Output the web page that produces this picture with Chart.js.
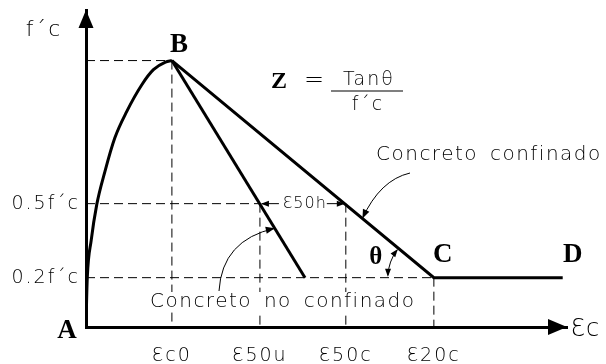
<!DOCTYPE html>
<html>
<head>
<meta charset="utf-8">
<script src="https://cdn.jsdelivr.net/npm/chart.js@4/dist/chart.umd.min.js"></script>
<style>
  html, body { margin: 0; padding: 0; background: #fff; }
</style>
</head>
<body>
<canvas id="stressStrain" width="606" height="364"></canvas>
<script>
// Strain marks on the horizontal axis
const strainTicks = [0.002, 0.00405, 0.00605, 0.0081];
const strainLabels = ['Ɛc0', 'Ɛ50u', 'Ɛ50c', 'Ɛ20c'];

// Stress levels marked on the vertical axis (fraction of f'c)
const stressTicks = [0.2, 0.5];
const stressLabels = ['0.2f´c', '0.5f´c'];

// Ascending branch A-B
const riseStrain = [0, 0.00001, 0.00003, 0.00012, 0.00025, 0.00044, 0.00067, 0.00095, 0.0013, 0.00157, 0.00185, 0.002];
const riseStress = [0, 0.08, 0.2, 0.35, 0.496, 0.63, 0.766, 0.874, 0.982, 1.043, 1.074, 1.08];

// Descending branches
const unconfinedStrain = [0.002, 0.0051];
const unconfinedStress = [1.08, 0.2];
const confinedStrain = [0.002, 0.0081, 0.0111];
const confinedStress = [1.08, 0.2, 0.2];

const peakStrain = riseStrain[riseStrain.length - 1];
const peakStress = riseStress[riseStress.length - 1];

const toPoints = (xs, ys) => xs.map((v, i) => ({ x: v, y: ys[i] }));

const thin = "200 19px 'DejaVu Sans'";
const serif = "bold 27px 'Liberation Serif'";

function solidLine(points, extra) {
    return Object.assign({
        data: points,
        showLine: true,
        borderColor: '#000',
        borderWidth: 3,
        pointRadius: 0,
        fill: false
    }, extra || {});
}

function dashLine(points) {
    return {
        data: points,
        showLine: true,
        borderColor: '#000',
        borderWidth: 1,
        borderDash: [9, 5],
        pointRadius: 0,
        fill: false
    };
}

// Guide lines from the axes to the key points
const guides = [
    [{ x: 0, y: peakStress }, { x: peakStrain, y: peakStress }],
    [{ x: peakStrain, y: peakStress }, { x: peakStrain, y: 0 }],
    [{ x: 0, y: stressTicks[1] }, { x: strainTicks[1], y: stressTicks[1] }],
    [{ x: strainTicks[1], y: stressTicks[1] }, { x: strainTicks[1], y: 0 }],
    [{ x: strainTicks[2], y: stressTicks[1] }, { x: strainTicks[2], y: 0 }],
    [{ x: 0, y: stressTicks[0] }, { x: strainTicks[3], y: stressTicks[0] }],
    [{ x: strainTicks[3], y: stressTicks[0] }, { x: strainTicks[3], y: 0 }]
];

function arrowHead(ctx, x, y, angle, len, half) {
    const c = Math.cos(angle), s = Math.sin(angle);
    ctx.beginPath();
    ctx.moveTo(x, y);
    ctx.lineTo(x - len * c + half * s, y - len * s - half * c);
    ctx.lineTo(x - len * c - half * s, y - len * s + half * c);
    ctx.closePath();
    ctx.fill();
}

// point on a straight segment at a given stress
function atStress(x0, y0, x1, y1, s) {
    const t = (s - y0) / (y1 - y0);
    return { x: x0 + t * (x1 - x0), y: s };
}

function curvedPointer(ctx, sx, sy, cx, cy, tx, ty) {
    ctx.beginPath();
    ctx.moveTo(sx, sy);
    ctx.quadraticCurveTo(cx, cy, tx, ty);
    ctx.stroke();
    arrowHead(ctx, tx, ty, Math.atan2(ty - cy, tx - cx), 9, 3.5);
}

function label(ctx, text, x, y, font, align, spacing, knockout) {
    ctx.font = font;
    ctx.letterSpacing = (spacing || 0) + 'px';
    ctx.wordSpacing = '4px';
    ctx.textAlign = align || 'center';
    ctx.textBaseline = 'middle';
    if (knockout) {
        const w = ctx.measureText(text).width;
        const left = align === 'left' ? x : x - w / 2;
        ctx.fillStyle = '#fff';
        ctx.fillRect(left - 3, y - 10, w + 6, 20);
    }
    ctx.fillStyle = '#000';
    ctx.fillText(text, x, y);
    ctx.letterSpacing = '0px';
    ctx.wordSpacing = '0px';
}

const sketchNotes = {
    id: 'sketchNotes',
    beforeDraw(chart) {
        chart.ctx.letterSpacing = '2px';
    },
    afterDraw(chart) {
        const { ctx, chartArea: area, scales: { x, y } } = chart;
        const px = v => x.getPixelForValue(v);
        const py = v => y.getPixelForValue(v);
        ctx.save();
        ctx.fillStyle = '#000';
        ctx.strokeStyle = '#000';

        // axis arrowheads and names
        arrowHead(ctx, area.left, area.top, -Math.PI / 2, 18, 7.5);
        arrowHead(ctx, area.right, area.bottom, 0, 19, 8);
        label(ctx, 'f´c', 44, 30, "200 22px 'DejaVu Sans'", 'center', 2);
        label(ctx, 'Ɛc', area.right + 4, area.bottom + 3, "200 24px 'DejaVu Sans'", 'left', 1);

        // point letters
        const bx = px(peakStrain), by = py(peakStress);
        const cx = px(strainTicks[3]), cy = py(stressTicks[0]);
        const dx = px(confinedStrain[confinedStrain.length - 1]);
        label(ctx, 'A', area.left - 19, area.bottom + 4, serif);
        label(ctx, 'B', bx + 7, by - 16, serif);
        label(ctx, 'C', cx + 9, cy - 23, serif);
        label(ctx, 'D', dx + 10, cy - 23, serif);

        // Z = Tanθ / f'c
        label(ctx, 'Z', 279, 82, "bold 24px 'Liberation Serif'");
        label(ctx, '=', 314, 81, "200 24px 'DejaVu Sans'", 'center', 0);
        label(ctx, 'Tanθ', 369, 80, thin, 'center', 2);
        ctx.lineWidth = 1.2;
        ctx.beginPath();
        ctx.moveTo(331, 91);
        ctx.lineTo(403, 91);
        ctx.stroke();
        label(ctx, 'f´c', 368, 105, thin, 'center', 2);

        // ε50h between the two descending lines at 0.5f'c
        const half = py(stressTicks[1]);
        const uX = px(strainTicks[1]), cX = px(strainTicks[2]);
        label(ctx, 'Ɛ50h', (uX + cX) / 2 + 2, half, "200 16px 'DejaVu Sans'", 'center', 1);
        ctx.lineWidth = 1;
        ctx.beginPath();
        ctx.moveTo(uX + 19, half); ctx.lineTo(uX + 2, half);
        ctx.moveTo(cX - 19, half); ctx.lineTo(cX - 2, half);
        ctx.stroke();
        arrowHead(ctx, uX + 1, half, Math.PI, 8, 3);
        arrowHead(ctx, cX - 1, half, 0, 8, 3);

        // θ arc at C
        const lineAng = Math.atan2(by - cy, bx - cx) + 2 * Math.PI;
        const r = 46;
        ctx.beginPath();
        ctx.arc(cx, cy, r, Math.PI + 0.05, lineAng - 0.05);
        ctx.stroke();
        const a0 = Math.PI + 0.02, a1 = lineAng - 0.02;
        arrowHead(ctx, cx + r * Math.cos(a0), cy + r * Math.sin(a0), a0 - Math.PI / 2, 8, 3);
        arrowHead(ctx, cx + r * Math.cos(a1), cy + r * Math.sin(a1), a1 + Math.PI / 2, 8, 3);
        label(ctx, 'θ', cx - 58, cy - 20, "bold 25px 'Liberation Serif'");

        // branch names with pointers
        label(ctx, 'Concreto confinado', 376, 155, "200 20px 'DejaVu Sans'", 'left', 1.5);
        const cp = atStress(confinedStrain[0], confinedStress[0], confinedStrain[1], confinedStress[1], 0.44);
        curvedPointer(ctx, 410, 173, 380, 180, px(cp.x), py(cp.y));

        label(ctx, 'Concreto no confinado', 150, 302, "200 20px 'DejaVu Sans'", 'left', 1.5, true);
        const up = atStress(unconfinedStrain[0], unconfinedStress[0], unconfinedStrain[1], unconfinedStress[1], 0.40);
        curvedPointer(ctx, 219, 291, 222, 240, px(up.x), py(up.y));

        ctx.restore();
    }
};

const datasets = [
    solidLine(toPoints(riseStrain, riseStress), { cubicInterpolationMode: 'monotone' }),
    solidLine(toPoints(unconfinedStrain, unconfinedStress)),
    solidLine(toPoints(confinedStrain, confinedStress))
].concat(guides.map(dashLine));

new Chart(document.getElementById('stressStrain'), {
    type: 'scatter',
    data: { datasets: datasets },
    options: {
        responsive: false,
        animation: false,
        devicePixelRatio: 1,
        layout: { padding: { top: 10, right: 39, left: 0, bottom: 0 } },
        plugins: { legend: { display: false }, tooltip: { enabled: false } },
        scales: {
            x: {
                type: 'linear',
                min: 0,
                max: 0.0112,
                afterBuildTicks: scale => { scale.ticks = strainTicks.map(v => ({ value: v })); },
                afterFit: scale => {
                    scale.height = 37;
                    scale.paddingLeft = 0;
                    scale.paddingRight = 0;
                },
                grid: { display: false, drawTicks: false },
                border: { display: true, color: '#000', width: 3 },
                ticks: {
                    autoSkip: false,
                    maxRotation: 0,
                    padding: 18,
                    color: '#000',
                    font: { family: 'DejaVu Sans', size: 19, weight: 200 },
                    callback: (v, i) => strainLabels[i]
                }
            },
            y: {
                type: 'linear',
                min: 0,
                max: 1.285,
                afterBuildTicks: scale => { scale.ticks = stressTicks.map(v => ({ value: v })); },
                afterFit: scale => {
                    scale.width = 86;
                    scale.paddingTop = 0;
                    scale.paddingBottom = 0;
                },
                grid: { display: false, drawTicks: false },
                border: { display: true, color: '#000', width: 3 },
                ticks: {
                    autoSkip: false,
                    padding: 6,
                    color: '#000',
                    font: { family: 'DejaVu Sans', size: 19, weight: 200 },
                    callback: (v, i) => stressLabels[i]
                }
            }
        }
    },
    plugins: [sketchNotes]
});
</script>
</body>
</html>
